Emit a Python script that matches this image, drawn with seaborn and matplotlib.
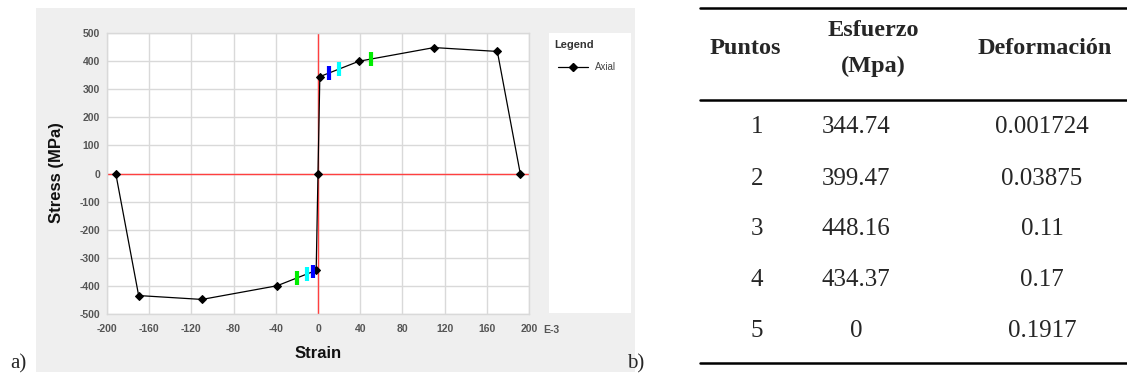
import numpy as np
import matplotlib
matplotlib.use("Agg")
import matplotlib.pyplot as plt
from matplotlib.lines import Line2D
from matplotlib.patches import Rectangle
import seaborn as sns
import pandas as pd

# ---------------- data ----------------
strain_e3 = [-191.7, -170.0, -110.0, -38.75, -1.724, 0.0, 1.724, 38.75, 110.0, 170.0, 191.7]
stress_mpa = [0.0, -434.37, -448.16, -399.47, -344.74, 0.0, 344.74, 399.47, 448.16, 434.37, 0.0]
level_strain = [10, 20, 50, -5, -10, -20]
level_colors = ["#0000ff", "#00ffff", "#00ee00", "#0000ff", "#00ffff", "#00ee00"]
x_ticks = [-200, -160, -120, -80, -40, 0, 40, 80, 120, 160, 200]
y_ticks = [-500, -400, -300, -200, -100, 0, 100, 200, 300, 400, 500]

table_points = ["1", "2", "3", "4", "5"]
table_stress = ["344.74", "399.47", "448.16", "434.37", "0"]
table_strain = ["0.001724", "0.03875", "0.11", "0.17", "0.1917"]

# ---------------- figure ----------------
sns.set_style("white")
plt.rcParams["font.family"] = ["Liberation Sans", "DejaVu Sans"]
plt.rcParams["axes.unicode_minus"] = False

W, H = 1127, 376
fig = plt.figure(figsize=(W / 100, H / 100), dpi=100)
fx = lambda px: px / W
fy = lambda py: 1 - py / H

# grey panel behind chart
fig.patches.append(Rectangle((fx(36), fy(372)), fx(635) - fx(36), fy(8) - fy(372),
                             transform=fig.transFigure, facecolor="#efefef",
                             edgecolor="none", zorder=-2))
# legend panel
fig.patches.append(Rectangle((fx(549), fy(313)), fx(631) - fx(549), fy(33) - fy(313),
                             transform=fig.transFigure, facecolor="white",
                             edgecolor="none", zorder=-1))

ax = fig.add_axes([fx(107), fy(314), fx(529) - fx(107), fy(33) - fy(314)])
ax.set_zorder(3)
ax.set_facecolor("white")
ax.set_xlim(-200, 200)
ax.set_ylim(-500, 500)
ax.set_xticks(x_ticks)
ax.set_yticks(y_ticks)
ax.grid(True, color="#d9d9d9", linewidth=1.0)
for s in ax.spines.values():
    s.set_color("#d9d9d9")
    s.set_linewidth(1.0)
ax.tick_params(axis="both", length=3, width=1, color="#444444", labelsize=7.5,
               labelcolor="#555555")
ax.tick_params(axis="x", pad=4)
ax.tick_params(axis="y", pad=2)
for lab in ax.get_xticklabels() + ax.get_yticklabels():
    lab.set_fontweight("bold")

ax.axhline(0, color="#ff4040", linewidth=1.0, zorder=2)
ax.axvline(0, color="#ff4040", linewidth=1.0, zorder=2)

df = pd.DataFrame({"strain": strain_e3, "stress": stress_mpa})
sns.lineplot(data=df, x="strain", y="stress", sort=False, estimator=None,
             color="black", linewidth=0.9, marker="D", markersize=4.5,
             markeredgecolor="black", ax=ax, zorder=3)

lvl_y = np.interp(level_strain, strain_e3, stress_mpa)
ax.vlines(level_strain, lvl_y - 24, lvl_y + 24, colors=level_colors,
          linewidth=3.0, zorder=4)

ax.set_xlabel("")
ax.set_ylabel("")

fig.text(fx(57), fy(173), "Stress (MPa)", rotation=90, ha="center", va="center",
         fontsize=12, fontweight="bold", color="#111111")
fig.text(fx(318), fy(353), "Strain", ha="center", va="center",
         fontsize=12, fontweight="bold", color="#111111")
fig.text(fx(543), fy(330), "E-3", ha="left", va="center",
         fontsize=7.5, fontweight="bold", color="#555555")

# legend content
fig.text(fx(554), fy(45), "Legend", ha="left", va="center", fontsize=8,
         fontweight="bold", color="#333333")
fig.lines.append(Line2D([fx(558), fx(588)], [fy(67), fy(67)], transform=fig.transFigure,
                        color="black", linewidth=0.9, zorder=5))
fig.lines.append(Line2D([fx(573)], [fy(67)], transform=fig.transFigure, color="black",
                        marker="D", markersize=4, linestyle="none", zorder=6))
fig.text(fx(595), fy(67), "Axial", ha="left", va="center", fontsize=7, color="#444444")

# panel labels
fig.text(fx(10), fy(364), "a)", ha="left", va="center", fontsize=15,
         family="Liberation Serif")
fig.text(fx(627), fy(364), "b)", ha="left", va="center", fontsize=15,
         family="Liberation Serif")

# ---------------- table ----------------
for yy in (8, 100, 363):
    fig.lines.append(Line2D([fx(700), fx(1127)], [fy(yy), fy(yy)], transform=fig.transFigure,
                            color="black", linewidth=1.8))

col_x = [745, 873, 1045]
num_x = [757, 856, 1042]
hdr_fs = 17.5
fig.text(fx(col_x[0]), fy(48), "Puntos", ha="center", va="center", fontsize=hdr_fs,
         fontweight="bold", family="Liberation Serif")
fig.text(fx(col_x[1]), fy(30), "Esfuerzo", ha="center", va="center", fontsize=hdr_fs,
         fontweight="bold", family="Liberation Serif")
fig.text(fx(col_x[1]), fy(66), "(Mpa)", ha="center", va="center", fontsize=hdr_fs,
         fontweight="bold", family="Liberation Serif")
fig.text(fx(col_x[2]), fy(48), "Deformación", ha="center", va="center", fontsize=hdr_fs,
         fontweight="bold", family="Liberation Serif")

row_y = [127, 179, 229, 280, 331]
for i in range(len(table_points)):
    for j, val in enumerate((table_points[i], table_stress[i], table_strain[i])):
        fig.text(fx(num_x[j]), fy(row_y[i]), val, ha="center", va="center",
                 fontsize=18, family="Liberation Serif")

fig.savefig("out.png", dpi=100)
